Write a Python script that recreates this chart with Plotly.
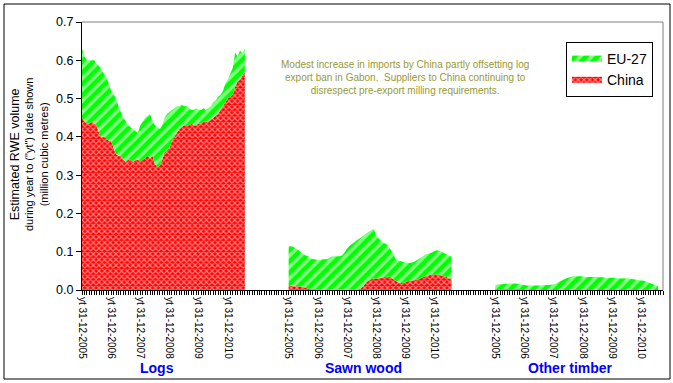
import plotly.graph_objects as go
import numpy as np

# ---------------- data ----------------
groups = ["Logs", "Sawn wood", "Other timber"]
years = ["2005", "2006", "2007", "2008", "2009", "2010"]
tick_labels = ["yt 31-12-" + y for y in years]

logs_total = [0.63, 0.61, 0.60, 0.60, 0.60, 0.60, 0.59, 0.585, 0.575, 0.565,
              0.555, 0.54, 0.52, 0.51, 0.50, 0.48, 0.465, 0.45, 0.44, 0.43,
              0.425, 0.42, 0.415, 0.41, 0.43, 0.44, 0.45, 0.455, 0.46, 0.44,
              0.43, 0.425, 0.42, 0.43, 0.45, 0.46, 0.465, 0.47, 0.475, 0.48,
              0.48, 0.485, 0.48, 0.48, 0.475, 0.47, 0.47, 0.475, 0.47, 0.47,
              0.475, 0.47, 0.475, 0.48, 0.49, 0.495, 0.505, 0.51, 0.52, 0.54,
              0.55, 0.565, 0.58, 0.62, 0.61, 0.625, 0.62, 0.63]
logs_china = [0.45, 0.44, 0.435, 0.435, 0.44, 0.435, 0.43, 0.41, 0.40, 0.40,
              0.395, 0.39, 0.39, 0.37, 0.355, 0.35, 0.35, 0.34, 0.335, 0.34,
              0.34, 0.335, 0.34, 0.34, 0.335, 0.34, 0.345, 0.35, 0.345, 0.35,
              0.33, 0.32, 0.325, 0.34, 0.36, 0.365, 0.37, 0.39, 0.40, 0.41,
              0.42, 0.425, 0.43, 0.43, 0.43, 0.435, 0.43, 0.43, 0.435, 0.435,
              0.44, 0.44, 0.44, 0.445, 0.45, 0.455, 0.46, 0.47, 0.48, 0.49,
              0.50, 0.505, 0.51, 0.53, 0.545, 0.55, 0.56, 0.57]

sawn_total = [0.115, 0.114, 0.112, 0.108, 0.105, 0.098, 0.094, 0.09, 0.088, 0.082,
              0.08, 0.08, 0.078, 0.079, 0.08, 0.08, 0.08, 0.085, 0.088, 0.088,
              0.088, 0.088, 0.09, 0.098, 0.108, 0.115, 0.12, 0.124, 0.13, 0.134,
              0.138, 0.143, 0.148, 0.152, 0.156, 0.16, 0.142, 0.135, 0.128, 0.123,
              0.121, 0.114, 0.105, 0.095, 0.08, 0.077, 0.076, 0.073, 0.071, 0.071,
              0.071, 0.072, 0.075, 0.079, 0.083, 0.087, 0.092, 0.095, 0.096, 0.098,
              0.102, 0.104, 0.102, 0.10, 0.096, 0.093, 0.09, 0.087]
sawn_china = [0.01, 0.011, 0.01, 0.01, 0.01, 0.009, 0.008, 0.006, 0.004, 0.002,
              0.002, 0.002, 0.001, 0.001, 0.001, 0.001, 0.001, 0.001, 0.001, 0.001,
              0.001, 0.001, 0.001, 0.001, 0.001, 0.001, 0.001, 0.001, 0.001, 0.002,
              0.005, 0.012, 0.02, 0.025, 0.028, 0.03, 0.03, 0.031, 0.032, 0.033,
              0.034, 0.035, 0.033, 0.028, 0.024, 0.02, 0.018, 0.018, 0.02, 0.023,
              0.025, 0.025, 0.026, 0.027, 0.03, 0.033, 0.035, 0.037, 0.039, 0.04,
              0.041, 0.04, 0.039, 0.038, 0.036, 0.034, 0.03, 0.026]

other_total = [0.012, 0.015, 0.015, 0.015, 0.016, 0.016, 0.017, 0.017, 0.017, 0.016,
               0.015, 0.014, 0.013, 0.012, 0.012, 0.012, 0.012, 0.012, 0.012, 0.012,
               0.013, 0.013, 0.013, 0.014, 0.015, 0.017, 0.021, 0.024, 0.027, 0.03,
               0.032, 0.034, 0.036, 0.036, 0.036, 0.036, 0.035, 0.034, 0.034, 0.034,
               0.034, 0.034, 0.034, 0.033, 0.033, 0.032, 0.032, 0.032, 0.032, 0.032,
               0.031, 0.031, 0.03, 0.03, 0.03, 0.03, 0.029, 0.028, 0.027, 0.026,
               0.025, 0.024, 0.022, 0.02, 0.017, 0.015, 0.012, 0.01]
other_china = [0.002] * 11 + [0.0] * 57

china = [logs_china, sawn_china, other_china]
totals = [logs_total, sawn_total, other_total]

group_offsets = [0, 85, 170]
n_total_categories = 239

annotation_text = ("Modest increase in imports by China partly offsetting log<br>"
                   "export ban in Gabon.  Suppliers to China continuing to<br>"
                   "disrespect pre-export milling requirements.")

# ---------------- figure ----------------
W, H = 673, 383
ML, MR, MT, MB = 82, 10, 22, 93
PW, PH = W - ML - MR, H - MT - MB

FONT = "Arial, Liberation Sans, sans-serif"
GREEN = "#00FF00"
RED = "#FF0000"

fig = go.Figure()
for gi, off in enumerate(group_offsets):
    c = np.array(china[gi])
    t = np.array(totals[gi])
    eu = np.clip(t - c, 0, None)
    x = off + np.arange(len(c))
    sg = "g%d" % gi
    fig.add_trace(go.Scatter(
        x=x, y=c, name="China", stackgroup=sg, mode="none",
        fillcolor=RED, line=dict(width=0),
        fillpattern=dict(shape="x", fgcolor="white", fillmode="overlay",
                         size=4, solidity=0.5),
        showlegend=(gi == 0), legendgroup="china", legendrank=2))
    fig.add_trace(go.Scatter(
        x=x, y=eu, name="EU-27", stackgroup=sg, mode="none",
        fillcolor=GREEN, line=dict(width=0),
        fillpattern=dict(shape="/", fgcolor="white", fillmode="overlay",
                         size=8, solidity=0.45),
        showlegend=(gi == 0), legendgroup="eu", legendrank=1))

tickvals = [off + 12 * k for off in group_offsets for k in range(len(years))]
ticktext = tick_labels * len(group_offsets)

fig.update_xaxes(
    range=[0, n_total_categories], tickmode="array", tickvals=tickvals, ticktext=ticktext,
    tickangle=90, ticks="outside", ticklen=4, tickcolor="black",
    tickfont=dict(family=FONT, size=10, color="black"),
    showline=True, linecolor="black", linewidth=1, showgrid=False, zeroline=False,
    minor=dict(tickmode="linear", tick0=0, dtick=1, ticks="outside", ticklen=4,
               tickcolor="black", showgrid=False),
    automargin=False, fixedrange=True)
fig.update_yaxes(
    range=[0, 0.7], dtick=0.1, tickformat=".1f", ticks="outside", ticklen=5,
    tickcolor="black", tickfont=dict(family=FONT, size=12.5, color="black"),
    showline=True, linecolor="black", linewidth=1, showgrid=False, zeroline=False,
    automargin=False, fixedrange=True)

def px_x(p):
    return (p - ML) / PW

def px_y(p):
    return (MT + PH - p) / PH

shapes = [
    dict(type="line", xref="paper", yref="paper", x0=0, x1=1, y0=1, y1=1,
         line=dict(color="#808080", width=1)),
    dict(type="line", xref="paper", yref="paper", x0=1, x1=1, y0=0, y1=1,
         line=dict(color="#808080", width=1)),
    dict(type="rect", xref="paper", yref="paper", x0=px_x(4), x1=px_x(670),
         y0=px_y(379), y1=px_y(4), line=dict(color="black", width=1)),
]

annotations = [
    dict(xref="paper", yref="paper", x=px_x(29), y=px_y(155), textangle=-90,
         xanchor="center", yanchor="middle",
         showarrow=False, align="center", font=dict(family=FONT, size=11, color="black"),
         text=("<span style='font-size:12.5px'>Estimated RWE volume</span><br>"
               "during year to (\"yt\") date shown<br>(million cubic metres)")),
    dict(xref="paper", yref="paper", x=px_x(405), y=px_y(77), showarrow=False,
         xanchor="center", yanchor="middle",
         align="center", font=dict(family=FONT, size=10, color="#999933"),
         text=annotation_text),
]
for gi, off in enumerate(group_offsets):
    annotations.append(dict(
        xref="x", yref="paper", x=off + 31, y=px_y(368), showarrow=False,
        xanchor="center", yanchor="middle",
        text="<b>%s</b>" % groups[gi], font=dict(family=FONT, size=14, color="#0000FF")))

fig.update_layout(
    width=W, height=H, margin=dict(l=ML, r=MR, t=MT, b=MB, autoexpand=False),
    paper_bgcolor="white", plot_bgcolor="white",
    shapes=shapes, annotations=annotations,
    legend=dict(x=px_x(566), y=px_y(42), xanchor="left", yanchor="top",
                bordercolor="black", borderwidth=1, bgcolor="white",
                font=dict(family=FONT, size=14, color="black"),
                itemwidth=30, tracegroupgap=0),
    showlegend=True,
)

fig.write_html("out.html", config={"displayModeBar": False},
               post_script="document.body.style.margin='0px';document.body.style.overflow='hidden';")
